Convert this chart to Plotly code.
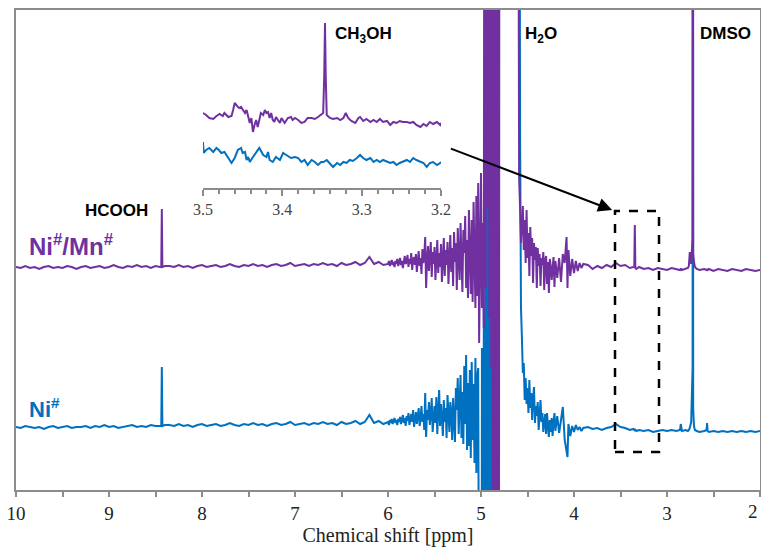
import plotly.graph_objects as go

# ---------------------------------------------------------------- data
# chemical-shift sampling points (ppm), shared by both 1H NMR spectra
shift_ppm = (
    [10.00, 9.95, 9.90, 9.85, 9.80, 9.75, 9.70, 9.65, 9.60, 9.55,
     9.50, 9.45, 9.40, 9.35, 9.30, 9.25, 9.20, 9.15, 9.10, 9.05,
     9.00, 8.95, 8.90, 8.85, 8.80, 8.75, 8.70, 8.65, 8.60, 8.55, 8.50]
    + [8.45, 8.438, 8.432, 8.426, 8.40]
    + [8.35, 8.30, 8.25, 8.20, 8.15, 8.10, 8.05, 8.00, 7.95, 7.90,
       7.85, 7.80, 7.75, 7.70, 7.65, 7.60, 7.55, 7.50, 7.45, 7.40,
       7.35, 7.30, 7.25, 7.20, 7.15, 7.10, 7.05, 7.00, 6.95, 6.90,
       6.85, 6.80, 6.75, 6.70, 6.65, 6.60, 6.55, 6.50, 6.45, 6.40,
       6.35, 6.30, 6.25, 6.20, 6.15, 6.10, 6.05]
    + [6.00, 5.99, 5.98, 5.97, 5.96, 5.95, 5.94, 5.93, 5.92, 5.91,
       5.90, 5.89, 5.88, 5.87, 5.86, 5.85, 5.84, 5.83, 5.82, 5.81,
       5.80, 5.79, 5.78, 5.77, 5.76, 5.75, 5.74, 5.73, 5.72, 5.71,
       5.70, 5.69, 5.68, 5.67, 5.66, 5.65, 5.64, 5.63, 5.62, 5.61,
       5.60, 5.59, 5.58, 5.57, 5.56, 5.55, 5.54, 5.53, 5.52, 5.51,
       5.50, 5.49, 5.48, 5.47, 5.46, 5.45, 5.44, 5.43, 5.42, 5.41,
       5.40, 5.39, 5.38, 5.37, 5.36, 5.35, 5.34, 5.33, 5.32, 5.31,
       5.30, 5.29, 5.28, 5.27, 5.26, 5.25, 5.24, 5.23, 5.22, 5.21,
       5.20, 5.19, 5.18, 5.17, 5.16, 5.15, 5.14, 5.13, 5.12, 5.11,
       5.10, 5.09, 5.08, 5.07, 5.06, 5.05, 5.04, 5.03, 5.02]
    + [5.00, 4.99, 4.98, 4.97, 4.96, 4.95, 4.94, 4.93, 4.92, 4.91,
       4.90, 4.89, 4.88, 4.87, 4.86, 4.85, 4.84, 4.83, 4.82, 4.81, 4.80]
    + [4.61, 4.60, 4.59, 4.58, 4.57, 4.56, 4.55, 4.54, 4.53, 4.52,
       4.51, 4.50, 4.49, 4.48, 4.47, 4.46, 4.45, 4.44, 4.43, 4.42,
       4.41, 4.40, 4.39, 4.38, 4.37, 4.36, 4.35, 4.34, 4.33, 4.32,
       4.31, 4.30, 4.29, 4.28, 4.27, 4.26, 4.25, 4.24, 4.23, 4.22,
       4.21, 4.20]
    + [4.18, 4.16, 4.14, 4.12, 4.10, 4.08, 4.07, 4.06, 4.04, 4.02,
       4.00, 3.98, 3.96, 3.94, 3.92, 3.90]
    + [3.85, 3.80, 3.75, 3.70, 3.65, 3.60, 3.55, 3.50, 3.45, 3.40,
       3.36, 3.352, 3.346, 3.340, 3.33, 3.30, 3.25, 3.20, 3.15, 3.10,
       3.05, 3.00, 2.95, 2.90, 2.86, 2.852, 2.846, 2.84, 2.80, 2.775,
       2.765, 2.755, 2.74, 2.725, 2.7215, 2.7185, 2.71, 2.70, 2.68, 2.65,
       2.60, 2.575, 2.569, 2.563, 2.55, 2.50, 2.45, 2.40, 2.35, 2.30,
       2.25, 2.20, 2.15, 2.10, 2.05, 2.00]
)

# Ni#/Mn# spectrum intensity (a.u.)
int_ni_mn = (
    [1, 0, 2, 0, 1, -1, 1, 2, 0, 1, 0, 2, 1, -1, 1, 2, 0, 1, 2, 0,
     1, 3, 1, 0, 2, 1, 3, 1, 2, 0, 2]
    + [1, 1, 59, 1, 2]
    + [2, 1, 3, 1, 2, 0, 2, 3, 1, 2, 3, 1, 2, 4, 2, 1, 3, 2, 4, 2,
       3, 1, 3, 4, 2, 3, 5, 2, 3, 4, 2, 4, 3, 5, 3, 4, 2, 5, 3, 4,
       6, 3, 5, 11, 4, 6, 3]
    + [4, 7, 2, 5, 8, 3, 6, 1, 7, 4,
       9, 2, 6, 10, 3, 7, 0, 8, 12, 4,
       6, 13, 1, 9, 4, 15, -2, 8, 11, 3,
       14, -4, 7, 17, 2, 10, -6, 19, 5, 12,
       31, -20, 8, 22, -3, 12, 26, -9, 16, 4,
       21, -12, 10, 28, -5, 15, 1, 24, -14, 9,
       30, -8, 18, 3, 26, -16, 12, 33, -4, 20,
       -18, 36, 6, 25, -22, 40, 10, -12, 45, 2,
       -24, 38, 15, 52, -20, 28, -30, 58, 8, -26,
       48, -34, 66, 12, -40, 72, -28, 85, -75]
    + [95, -40, 45, -60, 900, -20, 900, 60, 900, -50, 900, -100, 900, -900, 900,
       -900, 900, -900, 900, -900, 900]
    + [900, 400, 90, 60, 25, 45, 62, 18, 48, 5, 58, 10, 35, -8, 41, 12, 30, -15, 25, 8,
       21, -20, 20, 2, 14, -18, 10, 3, 16, -22, 8, 12, -16, 6, -25, 9, 2, -12, 5, 11,
       -19, 7]
    + [-10, 10, -14, 14, 5, 31, -20, 18, -8, 9, -5, 7, -3, 5, 0, 4]
    + [3, -1, 2, 0, 3, 1, 5, 2, 3, 0, 1, 1, 43, 0, -1, 1, -1, 0, -2, 0,
       -1, -2, 0, -1, -2, -1, -1, -2, -1, 0, 2, 16, 4, 30, 900, 15, 6, 1, -1, -2,
       -1, -2, -1, -2, -1, -3, -1, -2, -3, -1, -2, -3, -1, -2, -3, -2]
)

# Ni# spectrum intensity (a.u.)
int_ni = (
    [1, 0, 2, 1, 0, 1, -1, 1, 2, 0, 1, 2, 0, 1, 1, 2, 0, 2, 1, 3,
     1, 2, 0, 1, 2, 3, 1, 2, 1, 3, 2]
    + [2, 2, 61, 2, 3]
    + [3, 2, 4, 2, 3, 1, 3, 4, 2, 3, 4, 2, 3, 5, 3, 2, 4, 3, 5, 3,
       4, 2, 4, 5, 3, 4, 6, 3, 4, 5, 3, 5, 4, 6, 4, 5, 3, 6, 4, 5,
       7, 4, 6, 13, 5, 7, 4]
    + [6, 3, 8, 5, 9, 4, 7, 10, 5, 8,
       3, 9, 6, 11, 4, 8, 13, 5, 10, 2,
       12, 7, 15, 3, 9, 14, 6, 18, 1, 10,
       16, 4, 12, 20, 2, 9, 22, 6, 14, -2,
       35, -9, 18, 8, 26, 3, 14, 30, -4, 12,
       22, 5, 31, -6, 16, 38, 2, 24, 10, -8,
       28, 6, 20, -10, 33, 12, -4, 26, 15, -12,
       30, 8, -14, 40, 18, 50, -6, 24, 53, -10,
       36, -16, 62, 4, 73, -22, 45, -18, 58, -30,
       66, -12, 44, -35, 70, -45, 52, 60, -70]
    + [-900, 80, -900, 120, -900, 900, -900, 900, -900, 900, -900, 900, -900, 900, 900,
       900, 900, 900, 900, 900, 900]
    + [900, 900, 900, 300, 120, 90, 55, 65, 28, 50, 24, 40, 15, 48, 20, 35, 8, 30, 41, 5,
       22, 12, 26, -2, 18, 28, 6, 15, -4, 3, 14, -6, 15, 2, -9, 8, -4, 10, -8, 6,
       15, -3]
    + [12, -5, 8, 21, -12, -25, -29, 4, -8, 2, -4, 3, -2, 1, -3, 0]
    + [1, -1, 0, -2, 0, 1, 4, 1, 0, -2, -1, -2, -1, -2, -3, -2, -3, -2, -4, -3,
       -2, -3, -2, -3, -2, 4, -2, -3, -2, -3, -2, 0, 6, 60, 900, 20, 2, -2, -3, -4,
       -3, -2, 5, -3, -4, -3, -4, -3, -4, -3, -4, -3, -4, -3, -4, -3]
)

# expanded 3.5-3.2 ppm window
inset_ppm_ni_mn = [
    3.500, 3.496, 3.492, 3.487, 3.483, 3.479, 3.475, 3.473, 3.468, 3.464,
    3.462, 3.460, 3.456, 3.454, 3.452, 3.447, 3.445, 3.443, 3.441, 3.439,
    3.437, 3.435, 3.433, 3.431, 3.429, 3.427, 3.424, 3.422, 3.420, 3.418,
    3.416, 3.414, 3.412, 3.410, 3.408, 3.405, 3.403, 3.401, 3.399, 3.397,
    3.393, 3.389, 3.387, 3.384, 3.380, 3.376, 3.372, 3.368, 3.363, 3.359,
    3.355, 3.352, 3.3485, 3.3472, 3.3462, 3.3452, 3.3440, 3.340, 3.336, 3.331,
    3.327, 3.323, 3.320, 3.317, 3.313, 3.308, 3.304, 3.302, 3.298, 3.294,
    3.289, 3.285, 3.281, 3.277, 3.273, 3.268, 3.264, 3.260, 3.256, 3.252,
    3.248, 3.243, 3.239, 3.235, 3.231, 3.226, 3.222, 3.218, 3.214, 3.210,
    3.205, 3.201, 3.200,
]
inset_int_ni_mn = [
    5, 3, 0, -1, 2, 4, 2, 5, 1, 2,
    8, 15, 11, 10, 11, 5, 8, 0, -5, 0,
    -14, -7, -2, -9, 0, 5, 3, 8, 5, 6,
    0, 5, -2, -4, 1, -2, -5, 0, -2, -5,
    0, 1, -2, 0, -2, -5, -4, 0, 0, -1,
    1, 3, 5, 40, 95, 40, 3, 0, -1, 0,
    -2, 0, 5, 0, -3, -5, 0, 1, -3, -1,
    -4, -2, -4, -1, -4, -3, -7, -4, -5, -3,
    -4, -4, -5, -4, -7, -9, -6, -8, -4, -6,
    -4, -7, -5,
]
inset_ppm_ni = [
    3.500, 3.499, 3.496, 3.492, 3.487, 3.483, 3.480, 3.477, 3.473, 3.468,
    3.464, 3.460, 3.456, 3.452, 3.450, 3.447, 3.445, 3.443, 3.441, 3.437,
    3.435, 3.431, 3.429, 3.424, 3.420, 3.418, 3.416, 3.412, 3.408, 3.403,
    3.399, 3.395, 3.391, 3.389, 3.384, 3.380, 3.376, 3.372, 3.368, 3.363,
    3.359, 3.355, 3.351, 3.348, 3.344, 3.340, 3.336, 3.331, 3.327, 3.323,
    3.319, 3.315, 3.311, 3.306, 3.302, 3.298, 3.294, 3.289, 3.285, 3.281,
    3.277, 3.273, 3.268, 3.264, 3.260, 3.256, 3.252, 3.248, 3.243, 3.239,
    3.235, 3.231, 3.226, 3.222, 3.218, 3.214, 3.210, 3.205, 3.201, 3.200,
]
inset_int_ni = [
    14, 3, 6, 8, 4, 8, 6, 3, 4, -2,
    -7, -2, 6, 8, 3, 4, -4, -1, -6, -1,
    1, 6, 8, 1, -1, 4, -4, -6, -1, -4,
    3, 1, -1, -2, -1, -2, -6, -4, -9, -4,
    -6, -9, -6, -6, -4, -7, -11, -7, -9, -6,
    -7, -4, -5, -2, 1, -2, -4, -2, -6, -4,
    -6, -4, -6, -7, -6, -9, -7, -6, -4, -6,
    -2, -4, -6, -7, -11, -7, -6, -9, -7, -6,
]

main_ticks = [10, 9, 8, 7, 6, 5, 4, 3, 2]
inset_ticks = [3.5, 3.4, 3.3, 3.2]

# ---------------------------------------------------------------- styling
PURPLE = "#7030A0"
BLUE = "#0070C0"
FRAME = "#8C8C8C"
SERIF = "Liberation Serif, Times New Roman, serif"
SANS = "Liberation Sans, Arial, sans-serif"
TICK_FONT = dict(family=SERIF, size=19, color="#222222")

# vertical stacking of the two spectra (main axis units)
OFFSET_NI_MN = 222
OFFSET_NI = 62
# stacking inside the expanded window
INSET_OFFSET_NI_MN = 70
INSET_OFFSET_NI = 32

fig = go.Figure()

fig.add_trace(go.Scatter(
    x=shift_ppm, y=[OFFSET_NI + v for v in int_ni],
    mode="lines", line=dict(color=BLUE, width=2), hoverinfo="skip",
    xaxis="x", yaxis="y",
))
fig.add_trace(go.Scatter(
    x=shift_ppm, y=[OFFSET_NI_MN + v for v in int_ni_mn],
    mode="lines", line=dict(color=PURPLE, width=2), hoverinfo="skip",
    xaxis="x", yaxis="y",
))
fig.add_trace(go.Scatter(
    x=inset_ppm_ni, y=[INSET_OFFSET_NI + v for v in inset_int_ni],
    mode="lines", line=dict(color=BLUE, width=2), hoverinfo="skip",
    xaxis="x2", yaxis="y2",
))
fig.add_trace(go.Scatter(
    x=inset_ppm_ni_mn, y=[INSET_OFFSET_NI_MN + v for v in inset_int_ni_mn],
    mode="lines", line=dict(color=PURPLE, width=2), hoverinfo="skip",
    xaxis="x2", yaxis="y2",
))

fig.update_layout(
    width=761, height=550,
    margin=dict(l=16, r=1, t=10, b=60, autoexpand=False),
    paper_bgcolor="white", plot_bgcolor="white",
    showlegend=False,
    xaxis=dict(
        range=[10, 2], domain=[0, 1], automargin=False,
        showline=True, mirror=True, linecolor=FRAME, linewidth=2,
        tickvals=main_ticks, ticktext=[str(t) for t in main_ticks],
        ticks="outside", ticklen=5, tickwidth=2, tickcolor=FRAME,
        minor=dict(dtick=0.5, tick0=0, ticks="outside", ticklen=5,
                   tickwidth=2, tickcolor=FRAME, showgrid=False),
        showgrid=False, zeroline=False,
        tickfont=TICK_FONT,
        title=dict(text="Chemical shift [ppm]", standoff=5,
                   font=dict(family=SERIF, size=20, color="#222222")),
    ),
    yaxis=dict(
        range=[0, 480], domain=[0, 1], automargin=False,
        showline=True, mirror=True, linecolor=FRAME, linewidth=2,
        showticklabels=False, ticks="", showgrid=False, zeroline=False,
    ),
    xaxis2=dict(
        domain=[0.2513, 0.5712], anchor="y2", range=[3.5, 3.2],
        automargin=False,
        showline=True, linecolor=FRAME, linewidth=2,
        tickvals=inset_ticks, ticktext=[f"{t:.1f}" for t in inset_ticks],
        ticks="outside", ticklen=6, tickwidth=2, tickcolor=FRAME,
        minor=dict(dtick=0.02, tick0=0, ticks="outside", ticklen=4,
                   tickwidth=2, tickcolor=FRAME, showgrid=False),
        showgrid=False, zeroline=False,
        tickfont=dict(family=SERIF, size=16, color="#444444"),
    ),
    yaxis2=dict(
        domain=[0.6292, 0.99], anchor="x2", range=[0, 173.2],
        automargin=False, visible=False,
    ),
)

# the last tick label sits on the right edge of the page; Plotly drops
# tick labels that overflow, so that one is drawn as a paper annotation
# kept just inside the page edge
fig.add_annotation(text=str(main_ticks[-1]), x=1.0, y=-21 / 480,
                   xref="paper", yref="paper", xanchor="right",
                   yanchor="middle", showarrow=False, font=TICK_FONT)

label_font = dict(family=SANS, size=17, color="black")
labels = [
    ("<b>CH<sub>3</sub>OH</b>", 6.59, 455, "left", label_font),
    ("<b>H<sub>2</sub>O</b>", 4.55, 455, "left", label_font),
    ("<b>DMSO</b>", 2.665, 457, "left", label_font),
    ("<b>HCOOH</b>", 8.56, 280, "right", label_font),
    ("<b>Ni<sup>#</sup>/Mn<sup>#</sup></b>", 9.88, 245, "left",
     dict(family=SANS, size=24, color=PURPLE)),
    ("<b>Ni<sup>#</sup></b>", 9.88, 82, "left",
     dict(family=SANS, size=22, color=BLUE)),
]
for text, x, y, anchor, font in labels:
    fig.add_annotation(text=text, x=x, y=y, xref="x", yref="y",
                       xanchor=anchor, yanchor="middle", showarrow=False,
                       font=font)

# arrow pointing from the expanded window to the region it magnifies
fig.add_annotation(
    x=3.59, y=280, ax=5.34, ay=342, xref="x", yref="y", axref="x", ayref="y",
    text="", showarrow=True, arrowhead=2, arrowsize=1.4, arrowwidth=2,
    arrowcolor="black",
)
# dashed frame around the 3.5-3.1 ppm region
fig.add_shape(
    type="rect", xref="x", yref="y", x0=3.559, x1=3.086, y0=38, y1=279,
    line=dict(color="black", width=2.5, dash="dash"),
)

fig.write_html("out.html", config={"displayModeBar": False})
